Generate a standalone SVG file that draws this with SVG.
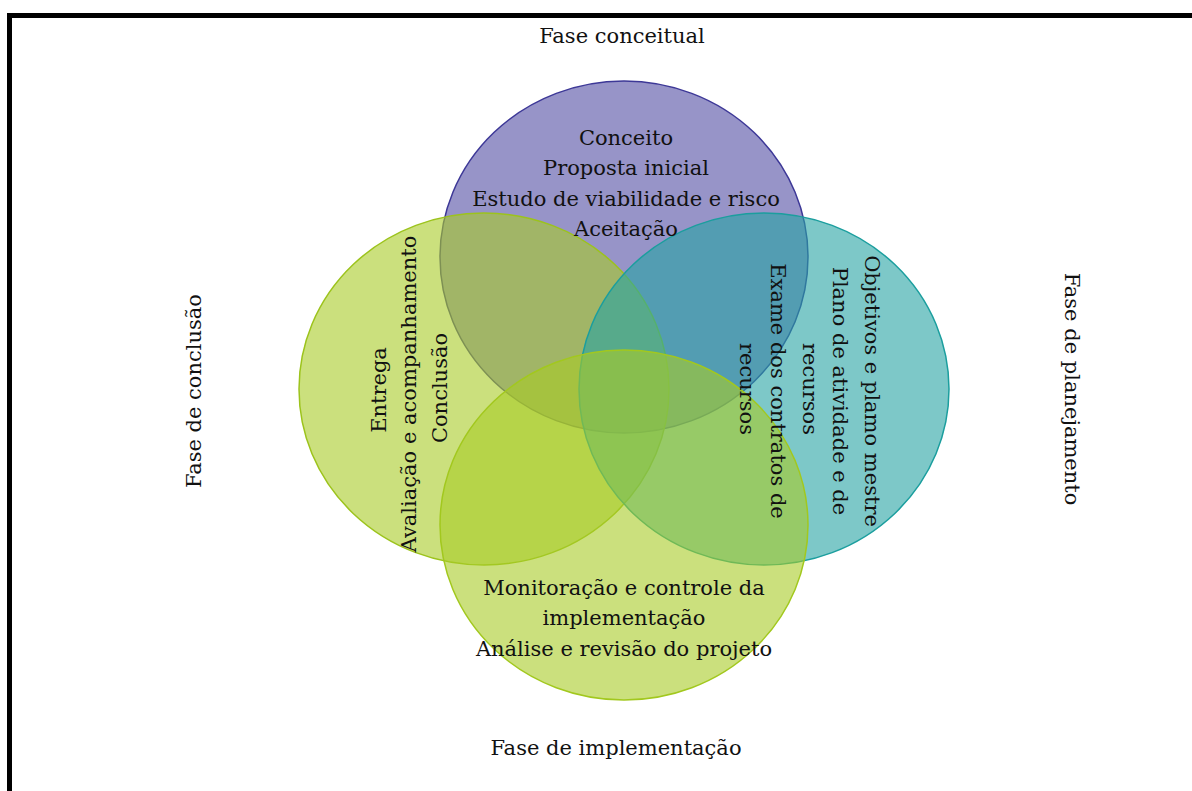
<svg xmlns="http://www.w3.org/2000/svg" width="1192" height="791" viewBox="0 0 1192 791">
<style>
text{font-family:"DejaVu Serif","Liberation Serif",serif;font-size:21px;fill:#111;text-anchor:middle}
.c{stroke-width:1.5}
</style>
<rect x="0" y="0" width="1192" height="791" fill="#fff"/>
<path d="M9.5 791 V15.5 H1192" fill="none" stroke="#000" stroke-width="5"/>
<g id="phase-labels">
<text x="622" y="43">Fase conceitual</text>
<text x="616" y="755">Fase de implementação</text>
<text transform="translate(201,391) rotate(-90)">Fase de conclusão</text>
<text transform="translate(1065,389) rotate(90)">Fase de planejamento</text>
</g>
<g id="circle-top">
<ellipse class="c" cx="624" cy="257" rx="184" ry="176" fill="#524CA3" fill-opacity="0.6" stroke="#3D3897"/>
</g>
<g id="circle-left">
<ellipse class="c" cx="484" cy="389" rx="185" ry="176" fill="#A8CB26" fill-opacity="0.6" stroke="#9CC31C"/>
</g>
<g id="circle-right">
<ellipse class="c" cx="764" cy="389" rx="185" ry="176" fill="#26A3A3" fill-opacity="0.6" stroke="#1B9E9E"/>
</g>
<g id="circle-bottom">
<ellipse class="c" cx="624" cy="525" rx="184" ry="175" fill="#A8CB26" fill-opacity="0.6" stroke="#A2C81E"/>
</g>
<g id="text-top">
<text x="626" y="145">Conceito</text>
<text x="626" y="175">Proposta inicial</text>
<text x="626" y="206">Estudo de viabilidade e risco</text>
<text x="626" y="236">Aceitação</text>
</g>
<g id="text-left">
<text transform="translate(386,390) rotate(-90)">Entrega</text>
<text transform="translate(416,394) rotate(-90)">Avaliação e acompanhamento</text>
<text transform="translate(447,388) rotate(-90)">Conclusão</text>
</g>
<g id="text-right">
<text transform="translate(865,391) rotate(90)">Objetivos e plamo mestre</text>
<text transform="translate(833,391) rotate(90)">Plano de atividade e de</text>
<text transform="translate(803,389) rotate(90)">recursos</text>
<text transform="translate(771,391) rotate(90)">Exame dos contratos de</text>
<text transform="translate(740,389) rotate(90)">recursos</text>
</g>
<g id="text-bottom">
<text x="624" y="595">Monitoração e controle da</text>
<text x="624" y="625">implementação</text>
<text x="624" y="656">Análise e revisão do projeto</text>
</g>
<g id="connectors"></g>
</svg>
